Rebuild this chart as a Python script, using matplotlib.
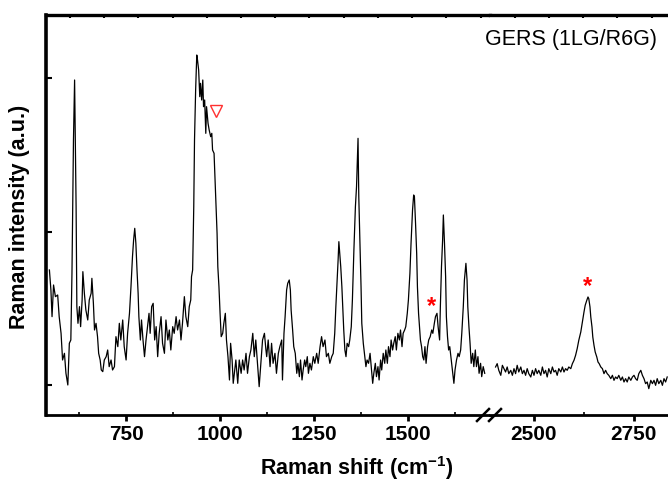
"""
GERS spectrum of R6G on single-layer graphene, broken x axis.
Values read off the reference picture.
"""

import numpy as np
import matplotlib
matplotlib.use("Agg")
import matplotlib.pyplot as plt
from matplotlib.lines import Line2D

plt.rcParams['font.family'] = ['Liberation Sans', 'DejaVu Sans']
plt.rcParams['mathtext.fontset'] = 'custom'
plt.rcParams['mathtext.rm'] = 'Liberation Sans'
plt.rcParams['mathtext.bf'] = 'Liberation Sans:bold'

# ---- data: low-wavenumber window (cm-1, a.u.) ----
shift_low = [546, 550, 553, 557, 562, 568, 572, 577, 581, 586, 590, 595, 599, 603,
             606, 610, 613, 617, 619, 622, 626, 629, 633, 635, 639, 643, 648, 652,
             657, 659, 663, 666, 670, 674, 677, 681, 684, 688, 692, 697, 701, 705,
             710, 714, 719, 723, 728, 732, 736, 741, 745, 750, 754, 759, 763, 767,
             770, 773, 776, 779, 782, 784, 788, 791, 795, 799, 803, 807, 811, 814,
             818, 822, 826, 830, 834, 838, 843, 847, 852, 856, 861, 865, 869, 874,
             878, 883, 887, 892, 896, 900, 905, 909, 914, 918, 922, 924, 927, 930,
             932, 935, 938, 940, 943, 946, 948, 951, 954, 956, 959, 962, 964, 968,
             971, 975, 978, 980, 984, 986, 989, 992, 994, 997, 1000, 1003, 1007,
             1010, 1014, 1017, 1021, 1025, 1028, 1032, 1035, 1039, 1042, 1047, 1051,
             1056, 1060, 1064, 1069, 1073, 1078, 1082, 1087, 1091, 1095, 1100, 1104,
             1109, 1113, 1118, 1122,
             1124, 1128, 1133, 1137, 1141, 1146, 1150, 1155, 1159, 1164, 1166, 1170,
             1173, 1177, 1180, 1184, 1187, 1189, 1193, 1196, 1200, 1204, 1207, 1211,
             1214, 1218, 1221, 1225, 1228, 1232, 1235, 1239, 1243, 1248, 1252, 1257,
             1261, 1266, 1270, 1274, 1279, 1283, 1288, 1292, 1297, 1301, 1305, 1308,
             1312, 1314, 1316, 1319, 1321, 1324, 1327, 1329, 1332, 1335, 1338, 1342,
             1345, 1349, 1352, 1356, 1360, 1363, 1367, 1369, 1372, 1375, 1377, 1381,
             1384, 1388, 1391, 1395, 1399, 1402, 1406, 1409, 1413, 1416, 1420, 1423,
             1427, 1430, 1434, 1438, 1441, 1445, 1448, 1452, 1455, 1459, 1462, 1466,
             1469, 1473, 1477, 1480, 1484, 1487, 1491, 1494, 1498, 1501, 1505, 1508,
             1512, 1515, 1517, 1520, 1523, 1525, 1528, 1531, 1533, 1536, 1539, 1542,
             1545, 1548, 1552, 1555, 1559, 1563, 1566, 1570, 1573, 1577, 1580, 1584,
             1586, 1589, 1592, 1594, 1597, 1600, 1602, 1605, 1608, 1611, 1615, 1618,
             1622, 1625, 1629, 1633, 1636, 1640, 1643, 1647, 1650, 1654, 1657, 1659,
             1662, 1665, 1668, 1672, 1675, 1679, 1682, 1686, 1689, 1693, 1696, 1700,
             1704]
inten_low = [435, 375, 295, 390, 355, 360, 295, 245, 165, 185, 125, 90, 215, 225,
             425, 825, 1005, 625, 325, 275, 325, 265, 345, 430, 365, 315, 285, 345,
             365, 410, 335, 255, 275, 235, 185, 165, 135, 130, 165, 175, 195, 145,
             165, 135, 145, 235, 205, 275, 225, 285, 205, 165, 245, 305, 385, 475,
             525, 560, 515, 435, 365, 295, 225, 285, 225, 175, 225, 265, 305, 245,
             325, 335, 225, 265, 175, 245, 295, 215, 185, 285, 225, 255, 195, 265,
             245, 295, 255, 285, 225, 275, 355, 295, 265, 325, 345, 415, 435, 625,
             825, 975, 1080, 1065, 1035, 955, 995, 945, 1005, 925, 945, 845, 925, 875,
             855, 835, 845, 795, 785, 725, 635, 545, 445, 385, 305, 235, 245,
             275, 305, 225, 175, 105, 215, 165, 95, 135, 165, 95, 165,
             125, 165, 135, 185, 125, 175, 195, 245, 175, 225, 145, 85,
             165, 225, 245, 195,
             175, 225, 145, 215, 155, 185, 125, 185, 205, 225, 105, 245,
             295, 375, 395, 405, 375, 315, 255, 205, 185, 125, 155, 115,
             165, 105, 135, 165, 145, 175, 125, 155, 135, 175, 155, 185,
             155, 205, 235, 205, 225, 175, 185, 155, 175, 185, 245, 325,
             415, 465, 520, 475, 445, 385, 305, 255, 195, 175, 215, 205,
             225, 265, 345, 495, 625, 685, 830, 655, 525, 385, 275, 215,
             185, 145, 165, 155, 185, 145, 95, 125, 155, 115, 145, 105,
             165, 135, 185, 155, 195, 155, 205, 175, 225, 195, 215, 235,
             195, 245, 225, 255, 205, 245, 255, 265, 305, 345, 425, 515,
             615, 660, 655, 575, 485, 385, 305, 255, 225, 205, 175, 165,
             205, 155, 205, 225, 235, 255, 245, 275, 295, 305, 265, 225,
             325, 445, 525, 600, 515, 415, 295, 235, 195, 205, 165, 135,
             95, 135, 165, 185, 175, 195, 245, 325, 405, 455, 405, 325,
             265, 215, 155, 185, 145, 195, 145, 175, 125, 155, 115, 145,
             125]

# ---- data: 2D-band window ----
shift_high = [2405, 2409, 2413, 2418, 2422, 2426, 2430, 2434, 2438, 2443, 2447, 2451,
              2455, 2459, 2463, 2468, 2472, 2476, 2480, 2484, 2488, 2493, 2497, 2501,
              2505, 2509, 2513, 2518, 2522, 2526, 2530, 2534, 2538, 2543, 2547, 2551,
              2555, 2559, 2563, 2568, 2572, 2576, 2580, 2584, 2588, 2593, 2597, 2601,
              2605, 2609, 2613, 2618, 2622, 2626, 2629, 2633, 2636, 2638, 2641, 2643,
              2646, 2648, 2651, 2654, 2658, 2661, 2664, 2668, 2672, 2676, 2680, 2684,
              2688, 2693, 2697, 2701, 2705, 2709, 2713, 2718, 2722, 2726, 2730, 2734,
              2738, 2743, 2747, 2751, 2755, 2759, 2763, 2768, 2772, 2776, 2780, 2784,
              2788, 2793, 2797, 2801, 2805, 2809, 2813, 2818, 2822, 2826, 2830, 2834]
inten_high = [144, 154, 134, 119, 149, 139, 129, 144, 124, 134, 119, 139,
              124, 149, 129, 144, 124, 134, 119, 139, 124, 114, 134, 119,
              139, 124, 134, 119, 144, 124, 134, 114, 139, 124, 144, 129,
              134, 119, 139, 129, 144, 129, 139, 134, 144, 139, 154, 164,
              179, 199, 224, 249, 279, 309, 329, 344, 354, 349, 324, 294,
              264, 234, 209, 189, 174, 159, 154, 144, 139, 124, 134, 124,
              119, 109, 119, 104, 114, 109, 119, 104, 114, 99, 109, 99,
              114, 104, 114, 119, 109, 104, 124, 134, 119, 109, 94, 99,
              79, 104, 94, 104, 89, 109, 94, 104, 89, 109, 99, 114]

# marked bands: (shift, intensity) of the symbols
star_low = (1562, 325)
star_high = (2636, 384)
tri_mark = (989, 913)

xticks_low = [750, 1000, 1250, 1500]
xticks_high = [2500, 2750]
yticks = [90, 549, 1011]

fig = plt.figure(figsize=(6.68, 4.84), dpi=100)
bottom, height = 0.1426, 0.8264
ax1 = fig.add_axes([0.0689, bottom, 0.6646, height])
ax2 = fig.add_axes([0.7335, bottom, 0.2665, height])

ax1.plot(shift_low, inten_low, color='black', lw=0.9)
ax2.plot(shift_high, inten_high, color='black', lw=0.9)

ax1.set_xlim(537, 1718)
ax2.set_xlim(2391, 2836)
for ax in (ax1, ax2):
    ax.set_ylim(0, 1200)
    ax.spines['right'].set_visible(False)
    ax.spines['top'].set_linewidth(2.4)
    ax.spines['bottom'].set_linewidth(2.0)
    ax.tick_params(axis='x', which='major', direction='out', length=4, width=2,
                   labelsize=15, pad=3)
    ax.tick_params(axis='x', which='minor', direction='in', length=2, width=1.2)
    ax.tick_params(top=False, which='both')

ax1.set_xticks(xticks_low)
ax1.set_xticks([625, 875, 1125, 1375, 1625], minor=True)
ax2.set_xticks(xticks_high)
ax2.set_xticks([2625], minor=True)
for ax in (ax1, ax2):
    ax.set_xticklabels([str(t) for t in ax.get_xticks()], fontweight='bold', fontsize=15)

ax1.spines['left'].set_linewidth(2.6)
ax1.set_yticks(yticks)
ax1.set_yticklabels([])
ax1.tick_params(axis='y', direction='in', length=4, width=1.5)
ax2.spines['left'].set_visible(False)
ax2.set_yticks([])

# small inward ticks along the top frame
ax_top = fig.add_axes([0.0689, bottom, 0.9311, height], facecolor='none')
ax_top.set_xlim(0, 1)
ax_top.set_ylim(0, 1)
for s in ax_top.spines.values():
    s.set_visible(False)
ax_top.set_yticks([])
ax_top.set_xticks(np.arange(0.0386, 1.0, 0.055))
ax_top.tick_params(axis='x', top=True, bottom=False, labeltop=False, labelbottom=False,
                   direction='in', length=2.5, width=1.5)

# break marks on the bottom axis
for xc in (483, 495):
    x0, x1 = (xc - 6) / 668, (xc + 6) / 668
    y0, y1 = 1 - 421 / 484, 1 - 409 / 484
    fig.add_artist(Line2D([x0, x1], [y0, y1], color='black', lw=1.8,
                          transform=fig.transFigure))

# band markers
ax1.text(star_low[0], star_low[1], '*', color='red', fontsize=17, fontweight='bold',
         ha='center', va='center')
ax2.text(star_high[0], star_high[1], '*', color='red', fontsize=17, fontweight='bold',
         ha='center', va='center')
ax1.plot([tri_mark[0]], [tri_mark[1]], marker='v', ms=9, mfc='none', mec='#ff3030',
         mew=1.0, ls='none')

fig.text(657 / 668, 1 - 40 / 484, 'GERS (1LG/R6G)', ha='right', va='center', fontsize=15.5)
fig.text(357 / 668, 1 - 468 / 484, 'Raman shift (cm$^{\\mathbf{-1}}$)', ha='center',
         va='center', fontsize=15.5, fontweight='bold')
fig.text(20 / 668, 1 - 217 / 484, 'Raman intensity (a.u.)', ha='center', va='center',
         rotation=90, fontsize=15.5, fontweight='bold')

fig.savefig('out.png', dpi=100)
